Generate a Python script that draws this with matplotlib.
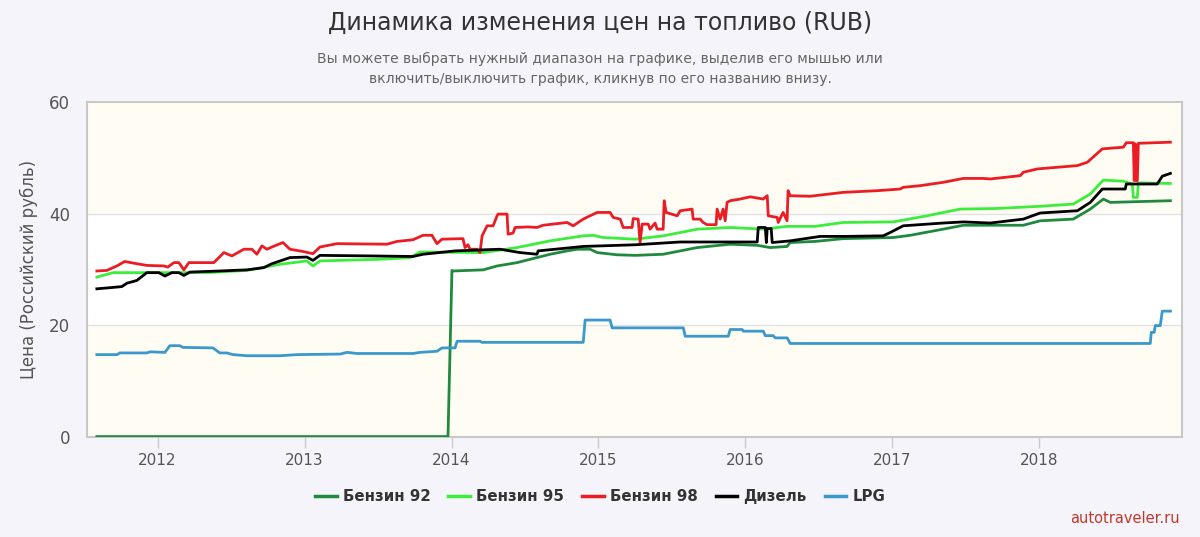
import matplotlib
matplotlib.use("Agg")
import matplotlib.pyplot as plt

# decimal years / price in RUB
benzin92_x = [2011.587, 2013.976, 2014.003, 2014.010, 2014.215, 2014.310, 2014.446, 2014.671,
              2014.786, 2014.855, 2014.943, 2014.991, 2015.127, 2015.250, 2015.440, 2015.672,
              2015.896, 2016.080, 2016.168, 2016.283, 2016.304, 2016.474, 2016.665, 2017.005,
              2017.121, 2017.345, 2017.482, 2017.699, 2017.890, 2018.005, 2018.230, 2018.346,
              2018.435, 2018.482, 2018.891]
benzin92_y = [0, 0, 29.8, 29.7, 29.9, 30.6, 31.2, 32.7,
              33.3, 33.6, 33.6, 33.0, 32.6, 32.5, 32.7, 33.9,
              34.5, 34.3, 33.9, 34.1, 34.8, 35.0, 35.5, 35.7,
              36.1, 37.2, 37.9, 37.9, 37.9, 38.7, 39.0, 40.8,
              42.6, 42.0, 42.3]

benzin95_x = [2011.587, 2011.696, 2012.336, 2012.608, 2012.833, 2013.016, 2013.057, 2013.105,
              2013.514, 2013.718, 2013.786, 2014.215, 2014.446, 2014.671, 2014.896, 2014.964,
              2015.032, 2015.250, 2015.440, 2015.672, 2015.896, 2016.121, 2016.283, 2016.474,
              2016.665, 2017.005, 2017.236, 2017.461, 2017.699, 2018.005, 2018.230, 2018.346,
              2018.435, 2018.571, 2018.632, 2018.639, 2018.666, 2018.673, 2018.891]
benzin95_y = [28.6, 29.4, 29.4, 29.8, 30.9, 31.5, 30.6, 31.5,
              31.8, 32.1, 33.1, 33.0, 33.9, 35.1, 36.0, 36.1,
              35.7, 35.4, 36.0, 37.2, 37.5, 37.2, 37.7, 37.7,
              38.4, 38.5, 39.6, 40.8, 40.9, 41.3, 41.7, 43.5,
              46.0, 45.8, 45.3, 42.9, 42.9, 45.5, 45.4]

benzin98_x = [2011.587, 2011.655, 2011.723, 2011.777, 2011.859, 2011.927, 2012.043, 2012.070,
              2012.111, 2012.145, 2012.179, 2012.213, 2012.383, 2012.451, 2012.506, 2012.587,
              2012.642, 2012.676, 2012.710, 2012.744, 2012.778, 2012.853, 2012.901, 2012.989,
              2013.057, 2013.105, 2013.221, 2013.561, 2013.629, 2013.738, 2013.806, 2013.867,
              2013.901, 2013.935, 2014.078, 2014.092, 2014.112, 2014.126, 2014.174, 2014.194,
              2014.208, 2014.242, 2014.283, 2014.310, 2014.317, 2014.378, 2014.385, 2014.419,
              2014.432, 2014.521, 2014.582, 2014.623, 2014.786, 2014.828, 2014.896, 2014.943,
              2014.991, 2015.079, 2015.100, 2015.148, 2015.168, 2015.229, 2015.236, 2015.270,
              2015.283, 2015.297, 2015.338, 2015.351, 2015.385, 2015.399, 2015.440, 2015.447,
              2015.460, 2015.535, 2015.556, 2015.637, 2015.644, 2015.692, 2015.712, 2015.739,
              2015.800, 2015.807, 2015.828, 2015.848, 2015.862, 2015.875, 2015.896, 2015.964,
              2016.032, 2016.120, 2016.148, 2016.155, 2016.216, 2016.223, 2016.256, 2016.283,
              2016.290, 2016.304, 2016.440, 2016.665, 2016.896, 2017.053, 2017.073, 2017.189,
              2017.345, 2017.482, 2017.618, 2017.666, 2017.870, 2017.890, 2017.986, 2018.258,
              2018.326, 2018.428, 2018.571, 2018.591, 2018.639, 2018.645, 2018.652, 2018.659,
              2018.666, 2018.673, 2018.891]
benzin98_y = [29.7, 29.8, 30.6, 31.4, 31.0, 30.7, 30.6, 30.4,
              31.2, 31.2, 29.9, 31.2, 31.2, 33.0, 32.4, 33.6,
              33.6, 32.7, 34.2, 33.6, 34.0, 34.8, 33.6, 33.2,
              32.8, 34.0, 34.6, 34.5, 35.0, 35.3, 36.1, 36.1,
              34.6, 35.4, 35.5, 33.9, 34.4, 33.6, 33.6, 33.0,
              36.0, 37.8, 37.8, 39.6, 39.9, 39.9, 36.3, 36.5,
              37.5, 37.6, 37.5, 37.9, 38.4, 37.8, 39.0, 39.6,
              40.2, 40.2, 39.3, 39.0, 37.5, 37.5, 39.1, 39.0,
              34.8, 38.1, 38.1, 37.2, 38.3, 37.2, 37.2, 42.3,
              40.2, 39.6, 40.5, 40.8, 39.0, 39.0, 38.4, 38.0,
              38.0, 40.8, 39.0, 40.8, 38.7, 42.0, 42.3, 42.6,
              43.0, 42.6, 43.2, 39.6, 39.3, 38.4, 40.2, 38.7,
              44.1, 43.2, 43.1, 43.8, 44.1, 44.4, 44.7, 45.0,
              45.6, 46.3, 46.3, 46.2, 46.8, 47.4, 48.0, 48.6,
              49.2, 51.6, 51.9, 52.7, 52.7, 45.9, 52.5, 45.9,
              45.9, 52.6, 52.8]

diesel_x = [2011.587, 2011.675, 2011.757, 2011.791, 2011.859, 2011.893, 2011.927, 2012.009,
            2012.050, 2012.097, 2012.145, 2012.179, 2012.220, 2012.424, 2012.608, 2012.723,
            2012.778, 2012.901, 2013.016, 2013.057, 2013.105, 2013.445, 2013.738, 2013.806,
            2014.024, 2014.330, 2014.466, 2014.582, 2014.589, 2014.896, 2015.250, 2015.556,
            2016.080, 2016.087, 2016.135, 2016.142, 2016.148, 2016.175, 2016.182, 2016.304,
            2016.508, 2016.665, 2016.937, 2016.985, 2017.073, 2017.345, 2017.482, 2017.666,
            2017.890, 2018.005, 2018.258, 2018.346, 2018.428, 2018.584, 2018.591, 2018.802,
            2018.836, 2018.891]
diesel_y = [26.5, 26.7, 26.9, 27.5, 28.0, 28.7, 29.4, 29.4,
            28.8, 29.4, 29.4, 28.9, 29.5, 29.7, 29.9, 30.3,
            31.0, 32.1, 32.2, 31.6, 32.5, 32.4, 32.3, 32.7,
            33.3, 33.6, 33.0, 32.7, 33.3, 34.1, 34.4, 34.9,
            34.9, 37.5, 37.5, 34.8, 37.3, 37.3, 34.8, 35.1,
            35.9, 35.9, 36.0, 36.6, 37.8, 38.3, 38.5, 38.3,
            39.0, 40.1, 40.5, 42.0, 44.4, 44.4, 45.3, 45.3,
            46.7, 47.2]

lpg_x = [2011.587, 2011.724, 2011.743, 2011.927, 2011.948, 2012.050, 2012.084, 2012.152,
         2012.172, 2012.377, 2012.424, 2012.472, 2012.513, 2012.608, 2012.833, 2012.949,
         2013.242, 2013.289, 2013.357, 2013.738, 2013.786, 2013.901, 2013.935, 2014.024,
         2014.038, 2014.194, 2014.208, 2014.896, 2014.909, 2015.079, 2015.093, 2015.577,
         2015.590, 2015.883, 2015.896, 2015.978, 2015.985, 2016.121, 2016.135, 2016.189,
         2016.203, 2016.284, 2016.304, 2018.754, 2018.761, 2018.781, 2018.788, 2018.822,
         2018.836, 2018.891]
lpg_y = [14.7, 14.7, 15.0, 15.0, 15.2, 15.1, 16.3, 16.3,
         16.0, 15.9, 15.0, 15.0, 14.7, 14.5, 14.5, 14.7,
         14.8, 15.1, 14.9, 14.9, 15.1, 15.3, 15.9, 15.9,
         17.1, 17.1, 16.9, 16.9, 20.9, 20.9, 19.5, 19.5,
         18.0, 18.0, 19.2, 19.2, 18.9, 18.9, 18.1, 18.1,
         17.7, 17.7, 16.7, 16.7, 18.7, 18.7, 19.9, 19.9,
         22.5, 22.5]

years = [2012, 2013, 2014, 2015, 2016, 2017, 2018]
y_ticks = [0, 20, 40, 60]

series = [
    ("Бензин 92", benzin92_x, benzin92_y, "#1f8a3e"),
    ("Бензин 95", benzin95_x, benzin95_y, "#3ced3c"),
    ("Бензин 98", benzin98_x, benzin98_y, "#ec1c24"),
    ("Дизель", diesel_x, diesel_y, "#000000"),
    ("LPG", lpg_x, lpg_y, "#3a98cc"),
]

fig = plt.figure(figsize=(12, 5.37), dpi=100, facecolor="#f4f4fa")
ax = fig.add_axes([0.0725, 0.187, 0.9125, 0.623])
ax.set_facecolor("#fffdf3")
ax.axhspan(20, 40, color="white", zorder=0)
for v in (20, 40):
    ax.axhline(v, color="#e2e2e2", lw=1, zorder=1)

for label, xs, ys, color in series:
    ax.plot(xs, ys, color=color, lw=2.0, label=label, zorder=3,
            solid_joinstyle="round")

ax.set_xlim(2011.52, 2018.97)
ax.set_ylim(0, 60)
ax.set_xticks(years)
ax.set_xticklabels([str(y) for y in years])
ax.set_yticks(y_ticks)
ax.tick_params(axis="y", length=0, pad=12, labelsize=12, labelcolor="#555555")
ax.tick_params(axis="x", length=8, width=1, color="#cccccc", pad=4,
               labelsize=11, labelcolor="#555555")
for spine in ax.spines.values():
    spine.set_color("#c8c8c8")
    spine.set_linewidth(1.5)

ax.set_ylabel("Цена (Российский рубль)", fontsize=12, color="#555555", labelpad=8)

fig.text(0.5, 0.958, "Динамика изменения цен на топливо (RUB)", ha="center", va="center",
         fontsize=17, color="#333333")
fig.text(0.5, 0.872,
         "Вы можете выбрать нужный диапазон на графике, выделив его мышью или\n"
         "включить/выключить график, кликнув по его названию внизу.",
         ha="center", va="center", fontsize=10, color="#666666", linespacing=1.5)

leg = fig.legend(loc="center", bbox_to_anchor=(0.5, 0.075), ncol=5, frameon=False,
                 handlelength=1.45, handletextpad=0.4, columnspacing=1.2,
                 prop={"size": 10.8, "weight": "bold"})
for text in leg.get_texts():
    text.set_color("#333333")
for line in leg.get_lines():
    line.set_linewidth(2.5)

fig.text(0.983, 0.035, "autotraveler.ru", ha="right", va="center", fontsize=10.5,
         color="#c0392b")

fig.savefig("out.png", dpi=100, facecolor=fig.get_facecolor())
